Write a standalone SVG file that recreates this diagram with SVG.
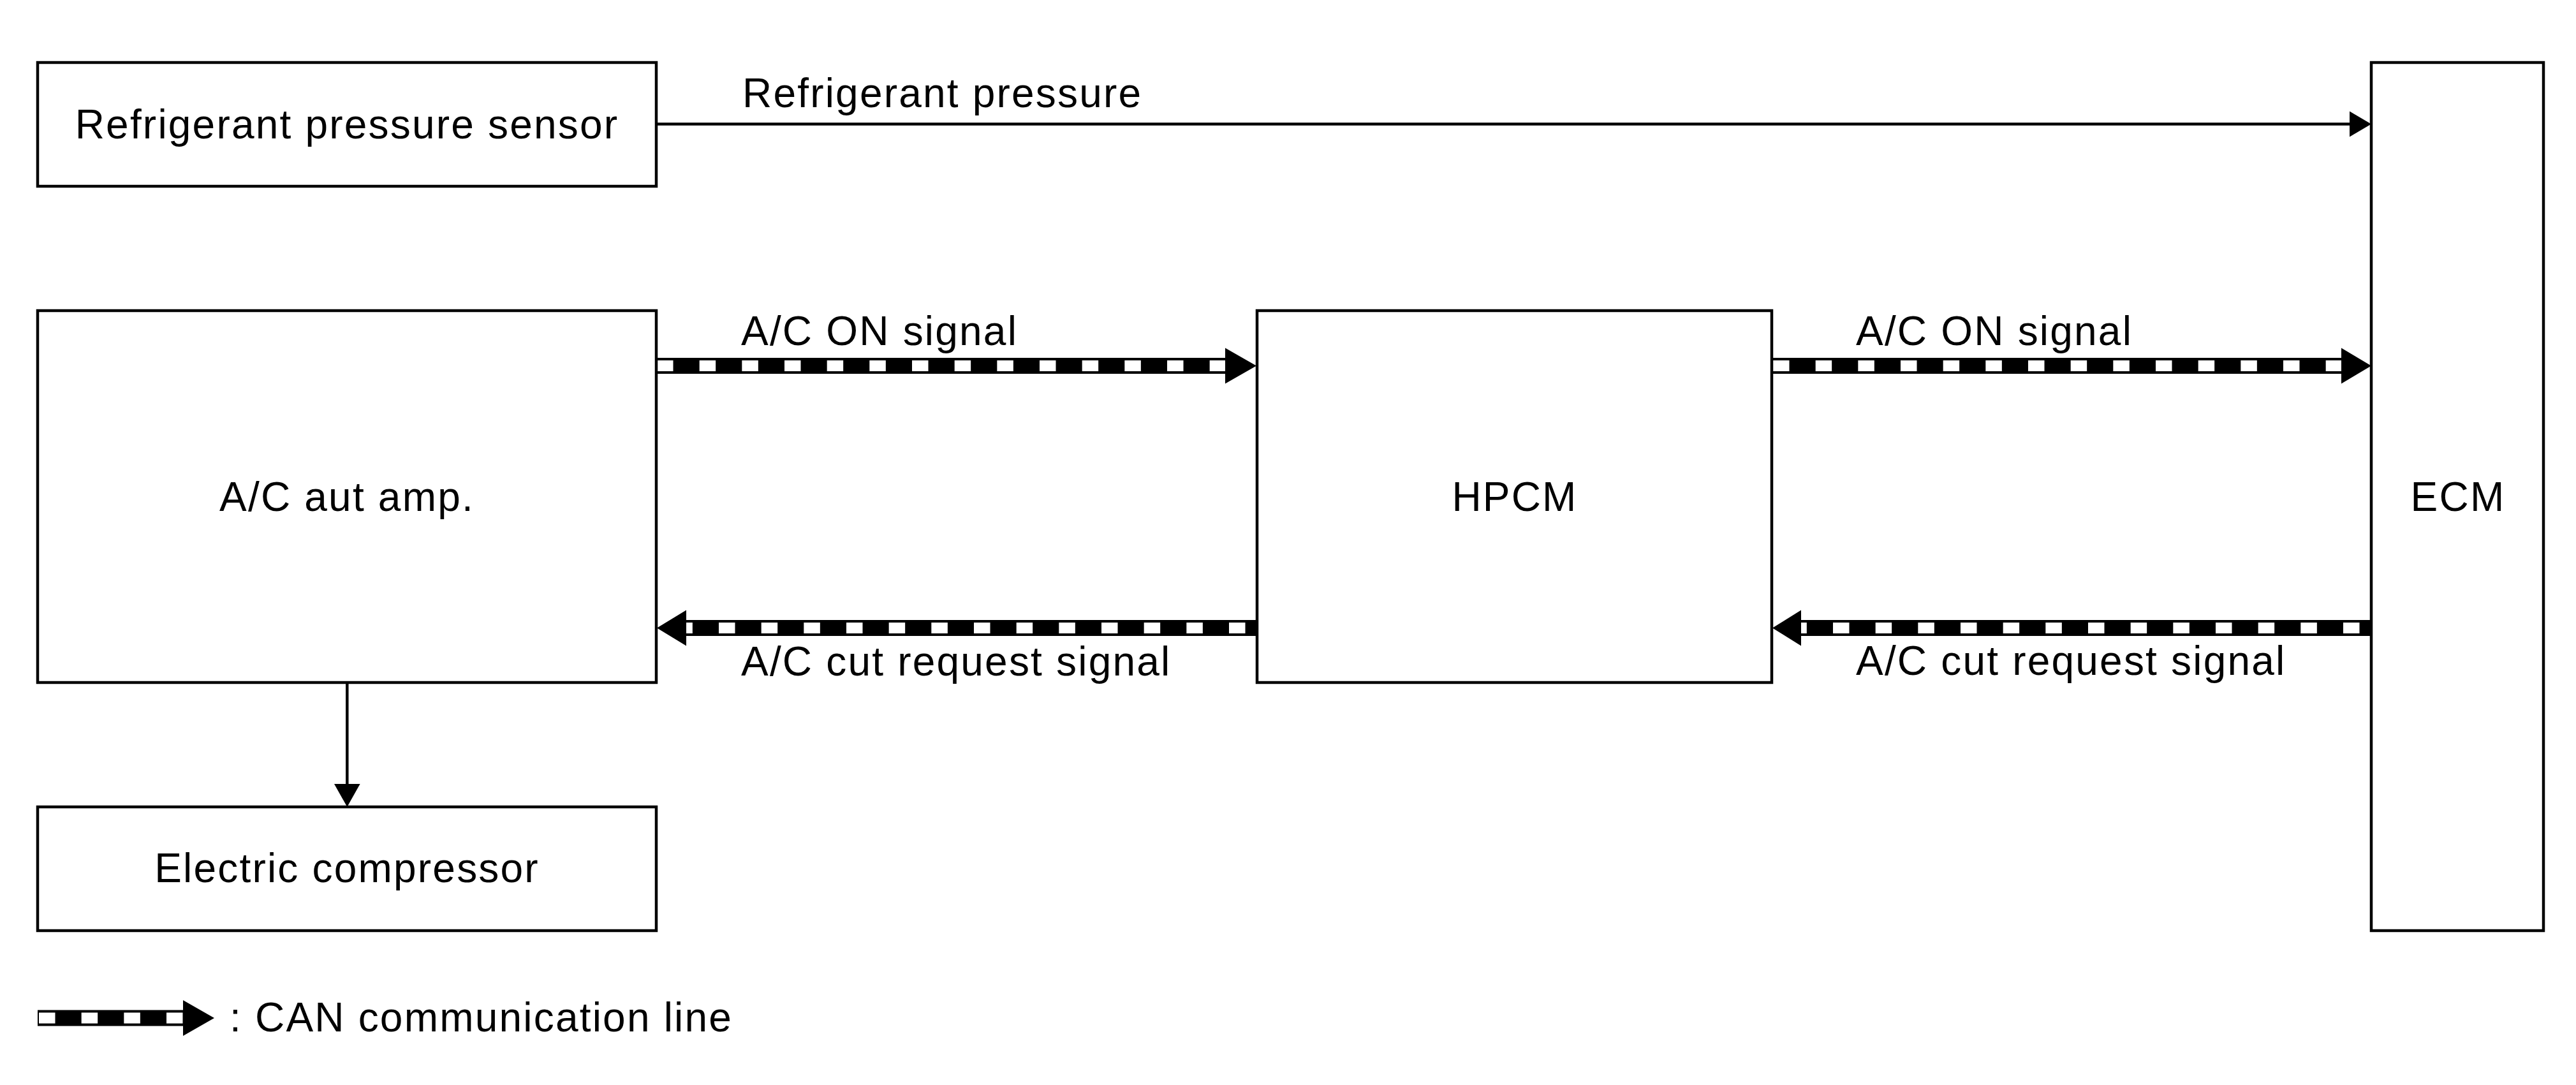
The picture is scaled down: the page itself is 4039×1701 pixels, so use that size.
<svg xmlns="http://www.w3.org/2000/svg" width="4039" height="1701" viewBox="0 0 4039 1701">
<style>
  .box { fill: #fff; stroke: #000; stroke-width: 4.5; }
  .lbl { font-family: "Liberation Sans", Arial, Helvetica, sans-serif; font-size: 64px; letter-spacing: 2.2px; fill: #000; }
  .mid { text-anchor: middle; }
  .wire { fill: none; stroke: #000; stroke-width: 4.5; }
  .canb { fill: none; stroke: #000; stroke-width: 25; }
  .canw { fill: none; stroke: #fff; stroke-width: 17; stroke-dasharray: 25.5 41.167; }
  .canw.rev { stroke-dashoffset: 48.167; }
  .head { fill: #000; stroke: none; }
</style>
<rect width="4039" height="1701" fill="#fff"/>

<g id="connectors">
  <g id="conn-refrigerant-pressure">
    <line class="wire" x1="1029" y1="194.5" x2="3686" y2="194.5"/>
    <polygon class="head" points="3684,174.5 3718,194.5 3684,214.5"/>
    <text class="lbl" x="1164" y="168">Refrigerant pressure</text>
  </g>
  <g id="conn-amp-compressor">
    <line class="wire" x1="544.3" y1="1070" x2="544.3" y2="1231"/>
    <polygon class="head" points="524,1229 564.6,1229 544.3,1265"/>
  </g>
  <g id="conn-amp-hpcm-on">
    <path class="canb" d="M1029,573.5 H1922"/>
    <path class="canw" d="M1030,573.5 H1921"/>
    <polygon class="head" points="1921,545.5 1970,573.5 1921,601.5"/>
    <text class="lbl" x="1162" y="541">A/C ON signal</text>
  </g>
  <g id="conn-hpcm-amp-cut">
    <path class="canb" d="M1971,984.5 H1075"/>
    <path class="canw rev" d="M1971,984.5 H1076"/>
    <polygon class="head" points="1076,956.5 1030,984.5 1076,1012.5"/>
    <text class="lbl" x="1162" y="1059">A/C cut request signal</text>
  </g>
  <g id="conn-hpcm-ecm-on">
    <path class="canb" d="M2779,573.5 H3672"/>
    <path class="canw" d="M2780,573.5 H3671"/>
    <polygon class="head" points="3671,545.5 3718,573.5 3671,601.5"/>
    <text class="lbl" x="2910" y="541">A/C ON signal</text>
  </g>
  <g id="conn-ecm-hpcm-cut">
    <path class="canb" d="M3718,984.5 H2823"/>
    <path class="canw rev" d="M3718,984.5 H2824"/>
    <polygon class="head" points="2824,956.5 2779,984.5 2824,1012.5"/>
    <text class="lbl" x="2910" y="1058">A/C cut request signal</text>
  </g>
</g>

<g id="node-refrigerant-sensor">
  <rect class="box" x="59" y="98" width="970" height="194"/>
  <text class="lbl mid" x="544" y="217">Refrigerant pressure sensor</text>
</g>
<g id="node-ac-amp">
  <rect class="box" x="59" y="487" width="970" height="583"/>
  <text class="lbl mid" x="544" y="801">A/C aut amp.</text>
</g>
<g id="node-compressor">
  <rect class="box" x="59" y="1265" width="970" height="194"/>
  <text class="lbl mid" x="544" y="1383">Electric compressor</text>
</g>
<g id="node-hpcm">
  <rect class="box" x="1971" y="487" width="807" height="583"/>
  <text class="lbl mid" x="2375" y="801">HPCM</text>
</g>
<g id="node-ecm">
  <rect class="box" x="3718" y="98" width="270" height="1361"/>
  <text class="lbl mid" x="3854" y="801">ECM</text>
</g>

<g id="legend">
  <path class="canb" d="M59,1596 H288"/>
  <path class="canw" d="M61,1596 H287"/>
  <polygon class="head" points="287,1568 336,1596 287,1624"/>
  <text class="lbl" x="360" y="1617">: CAN communication line</text>
</g>
</svg>
